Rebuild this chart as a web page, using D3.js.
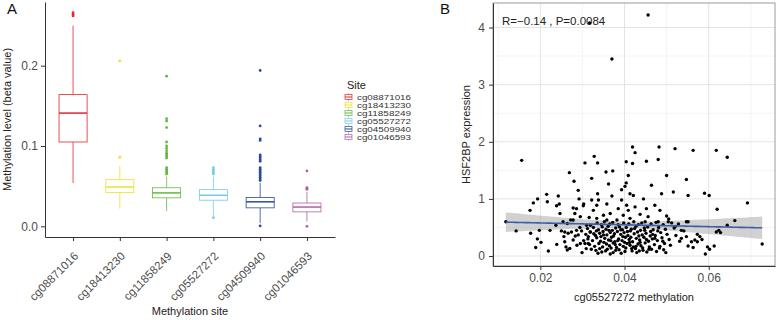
<!DOCTYPE html>
<html>
<head>
<meta charset="utf-8">
<script src="https://cdn.jsdelivr.net/npm/d3@7"></script>
<style>
  body { margin: 0; background: #fff; }
  svg { font-family: "Liberation Sans", Arial, sans-serif; }
</style>
</head>
<body>
<svg id="chart" width="776" height="320"></svg>
<script>
// ---- Panel A data: box summaries ----
const sites = ["cg08871016", "cg18413230", "cg11858249", "cg05527272", "cg04509940", "cg01046593"];
const siteColors = ["#E3262B", "#EEDF2A", "#62B83C", "#74CDE4", "#2A4A9C", "#B060A4"];
const boxQ1 = [0.105, 0.042, 0.0355, 0.0325, 0.023, 0.018];
const boxMedian = [0.141, 0.049, 0.0416, 0.0387, 0.0305, 0.024];
const boxQ3 = [0.164, 0.058, 0.048, 0.0457, 0.036, 0.029];
const whiskerLow = [0.054, 0.022, 0.019, 0.013, 0.004, 0.006];
const whiskerHigh = [0.25, 0.075, 0.062, 0.062, 0.054, 0.043];
const outliers = [
  [0.262, 0.264, 0.266],
  [0.206, 0.086],
  [0.187, 0.134, 0.131, 0.123, 0.105, 0.100, 0.097, 0.094, 0.091, 0.089, 0.087, 0.085, 0.073, 0.071, 0.069, 0.067, 0.065],
  [0.073, 0.071, 0.069, 0.067, 0.065, 0.0107],
  [0.194, 0.125, 0.109, 0.107, 0.089, 0.087, 0.085, 0.083, 0.081, 0.073, 0.071, 0.069, 0.067, 0.065, 0.063, 0.061, 0.059, 0.057, 0.0005],
  [0.069, 0.048, 0.047, 0.046, 0.0]
];
const yTicksA = [0, 0.1, 0.2];

// ---- Panel B data: [cg05527272 methylation, HSF2BP expression] ----
const scatter = [
  [0.0118,0.599],[0.01425,0.44],[0.01557,1.675],[0.01756,0.80],[0.01834,0.93],[0.01936,1.0],[0.0215,1.08],[0.02166,0.95],
  [0.02426,1.05],[0.02386,0.88],[0.0245,0.91],[0.02466,0.745],[0.0177,0.40],[0.01976,0.45],[0.0193,0.30],[0.02016,0.24],
  [0.0189,0.15],[0.0219,0.087],[0.0223,0.45],[0.0237,0.54],[0.0239,0.204],[0.0250,0.44],[0.0254,0.60],[0.0256,0.34],
  [0.0258,0.25],[0.0261,0.16],[0.0264,0.105],[0.0270,0.134],[0.0269,1.46],[0.0280,1.31],[0.0278,0.84],[0.0286,0.83],
  [0.0282,0.745],[0.0272,0.63],[0.0278,0.63],[0.0264,0.57],[0.0258,0.42],[0.0266,0.40],[0.0274,0.42],[0.0278,0.28],
  [0.0286,0.45],[0.0290,1.15],[0.0292,1.0],[0.0302,0.88],[0.0303,0.91],[0.0295,0.69],[0.0294,0.50],[0.0298,0.44],
  [0.0290,0.37],[0.0295,0.22],[0.0306,0.22],[0.0314,0.22],[0.0318,0.42],[0.0306,1.63],[0.0316,0.675],[0.0310,0.54],
  [0.0314,0.34],[0.0319,0.54],
  [0.0328,1.745],[0.0336,1.63],[0.0322,1.36],[0.0356,1.47],[0.0372,1.49],[0.0336,1.09],[0.0362,1.26],[0.0322,0.98],
  [0.0338,0.98],[0.0334,0.89],[0.0326,0.80],[0.0358,0.91],[0.0370,1.05],[0.0393,1.16],[0.0404,1.28],[0.0409,1.41],
  [0.0404,1.65],[0.0419,1.62],[0.0419,1.91],[0.0425,1.81],[0.0452,1.66],[0.0480,1.69],[0.0482,1.91],[0.0520,1.88],
  [0.0500,1.41],[0.0547,1.34],[0.0464,1.24],[0.0401,1.22],[0.0413,1.09],[0.0488,1.09],[0.0516,1.12],[0.0551,1.06],
  [0.0421,1.06],[0.0445,1.0],[0.0393,0.98],[0.0405,0.89],[0.0385,0.83],[0.0409,0.80],[0.0397,0.715],[0.0425,0.86],
  [0.0452,0.83],[0.0472,0.89],[0.0484,0.80],[0.0456,0.69],[0.0500,0.70],[0.0437,0.73],[0.0366,0.745],[0.0350,0.715],
  [0.0334,0.66],[0.0358,0.63],[0.0382,0.63],[0.0413,0.66],[0.0449,0.60],[0.0480,0.60],[0.0504,0.60],[0.0535,0.45],
  [0.0547,0.34],[0.0547,0.60],
  [0.0563,1.85],[0.0618,1.85],[0.0644,1.73],[0.0590,1.10],[0.0601,1.06],[0.0692,0.93],[0.0620,0.82],[0.0551,0.60],
  [0.0662,0.62],[0.0644,0.54],[0.0618,0.42],[0.0624,0.45],[0.0628,0.41],[0.0727,0.21],[0.0573,0.38],[0.0579,0.34],
  [0.0567,0.28],[0.0559,0.25],[0.0573,0.25],[0.0584,0.29],[0.0551,0.175],[0.0563,0.15],[0.0597,0.16],[0.0602,0.12],
  [0.0613,0.175],[0.0592,0.035],[0.0366,0.035],
  [0.0317,4.08],[0.0370,3.45],[0.0456,4.22],
  [0.0335,0.58],[0.0345,0.55],[0.0352,0.60],[0.0365,0.56],[0.0372,0.59],[0.0385,0.55],[0.0398,0.58],[0.0410,0.56],
  [0.0422,0.60],[0.0433,0.55],[0.0441,0.58],[0.0463,0.56],[0.0475,0.59],[0.0492,0.55],[0.0512,0.58],[0.0528,0.56],
  [0.0312,0.48],[0.0326,0.50],[0.0338,0.46],[0.0347,0.51],[0.0356,0.47],[0.0361,0.52],[0.0371,0.45],[0.0379,0.49],
  [0.0388,0.51],[0.0395,0.46],[0.0404,0.50],[0.0416,0.47],[0.0427,0.52],[0.0438,0.45],[0.0447,0.49],[0.0455,0.51],
  [0.0468,0.46],[0.0481,0.50],[0.0497,0.47],[0.0518,0.49],
  [0.0308,0.38],[0.0319,0.42],[0.0331,0.36],[0.0341,0.40],[0.0349,0.43],[0.0358,0.37],[0.0366,0.41],[0.0374,0.35],
  [0.0383,0.43],[0.0391,0.38],[0.0399,0.41],[0.0408,0.36],[0.0414,0.44],[0.0423,0.39],[0.0431,0.42],[0.0442,0.37],
  [0.0451,0.40],[0.0462,0.43],[0.0473,0.36],[0.0486,0.41],[0.0501,0.38],[0.0522,0.36],
  [0.0313,0.30],[0.0324,0.27],[0.0334,0.32],[0.0343,0.26],[0.0353,0.31],[0.0362,0.28],[0.0369,0.33],[0.0377,0.25],
  [0.0386,0.30],[0.0394,0.27],[0.0402,0.33],[0.0411,0.29],[0.0419,0.25],[0.0428,0.31],[0.0436,0.28],[0.0446,0.33],
  [0.0457,0.26],[0.0466,0.30],[0.0478,0.27],[0.0489,0.32],[0.0506,0.29],[0.0531,0.26],
  [0.0317,0.20],[0.0329,0.17],[0.0339,0.22],[0.0348,0.16],[0.0357,0.21],[0.0364,0.18],[0.0373,0.23],[0.0381,0.15],
  [0.0389,0.20],[0.0397,0.17],[0.0406,0.22],[0.0413,0.19],[0.0421,0.16],[0.0432,0.21],[0.0439,0.18],[0.0449,0.23],
  [0.0459,0.16],[0.0471,0.20],[0.0484,0.17],[0.0495,0.22],[0.0509,0.19],
  [0.0332,0.10],[0.0346,0.07],[0.0359,0.12],[0.0373,0.06],[0.0387,0.11],[0.0401,0.08],[0.0417,0.13],[0.0429,0.06],
  [0.0444,0.10],[0.0458,0.12],[0.0476,0.08],[0.0493,0.11],
  [0.0505,0.65],[0.0521,0.52],[0.0535,0.31],[0.0541,0.44],
  [0.0321,0.12],[0.0337,0.05],[0.0344,0.34],[0.0351,0.24],[0.0355,0.09],[0.0363,0.45],[0.0368,0.14],[0.0376,0.39],
  [0.0379,0.10],[0.0384,0.27],[0.0392,0.05],[0.0396,0.34],[0.0403,0.14],[0.0407,0.43],[0.0412,0.24],[0.0418,0.09],
  [0.0424,0.48],[0.0426,0.13],[0.0434,0.35],[0.0437,0.24],[0.0443,0.14],[0.0448,0.45],[0.0453,0.07],[0.0461,0.35],
  [0.0464,0.12],[0.0472,0.31],[0.0479,0.44],[0.0483,0.14],[0.0491,0.26],[0.0498,0.06],[0.0327,0.39],[0.0333,0.44],
  [0.0341,0.13],[0.0350,0.37],[0.0367,0.27],[0.0378,0.20],[0.0391,0.46],[0.0400,0.24],[0.0415,0.33],[0.0427,0.17],
  [0.0435,0.09],[0.0452,0.29],[0.0467,0.38],[0.0303,0.27],[0.0309,0.13],[0.0287,0.19],[0.0283,0.35],[0.0299,0.06]
];
// fitted line: [methylation, expression] at both ends
const fitEnds = [[0.0118, 0.593], [0.0727, 0.494]];
const xTicksB = [0.02, 0.04, 0.06];
const xMinorB = [0.01, 0.03, 0.05, 0.07];
const yTicksB = [0, 1, 2, 3, 4];
const yMinorB = [0.5, 1.5, 2.5, 3.5];
const corrLabel = "R=\u22120.14 , P=0.0084";

const svg = d3.select("#chart");
const axisColor = "#333";
const labelColor = "#4d4d4d";

// ================= Panel A =================
const a = { left: 45, right: 335, top: 2, bottom: 237 };
const yMaxA = d3.max(outliers.flat());
const padA = yMaxA * 0.05;

const xA = d3.scalePoint().domain(sites).range([a.left, a.right]).padding(0.6);
const yA = d3.scaleLinear().domain([0 - padA, yMaxA + padA]).range([a.bottom, a.top]);
const boxW = xA.step() * 0.6;

const gA = svg.append("g");

const yAxisA = gA.append("g")
    .attr("transform", `translate(${a.left},0)`)
    .call(d3.axisLeft(yA).tickValues(yTicksA).tickFormat(d3.format(".1f")).tickSize(4).tickSizeOuter(0).tickPadding(3));
const xAxisA = gA.append("g")
    .attr("transform", `translate(0,${a.bottom})`)
    .call(d3.axisBottom(xA).tickSize(4).tickSizeOuter(0));

[yAxisA, xAxisA].forEach(g => {
  g.select(".domain").attr("stroke", axisColor);
  g.selectAll(".tick line").attr("stroke", axisColor);
  g.selectAll(".tick text").attr("fill", labelColor).attr("font-family", null);
});
yAxisA.selectAll(".tick text").attr("font-size", 12);
xAxisA.selectAll(".tick text")
    .attr("font-size", 11.5)
    .attr("text-anchor", "end")
    .attr("dy", "0.35em")
    .attr("y", 0)
    .attr("transform", "translate(2.5,17) rotate(-45)");

const boxes = gA.append("g").selectAll("g.box")
  .data(sites)
  .join("g")
    .attr("class", "box");

boxes.each(function(d, i) {
  const g = d3.select(this);
  const cx = xA(d);
  const c = siteColors[i];
  g.append("line").attr("x1", cx).attr("x2", cx)
      .attr("y1", yA(whiskerHigh[i])).attr("y2", yA(boxQ3[i]))
      .attr("stroke", c).attr("stroke-width", 0.8);
  g.append("line").attr("x1", cx).attr("x2", cx)
      .attr("y1", yA(boxQ1[i])).attr("y2", yA(whiskerLow[i]))
      .attr("stroke", c).attr("stroke-width", 0.8);
  g.append("rect")
      .attr("x", cx - boxW / 2).attr("width", boxW)
      .attr("y", yA(boxQ3[i])).attr("height", yA(boxQ1[i]) - yA(boxQ3[i]))
      .attr("fill", "#fff").attr("stroke", c).attr("stroke-width", 0.8);
  g.append("line")
      .attr("x1", cx - boxW / 2).attr("x2", cx + boxW / 2)
      .attr("y1", yA(boxMedian[i])).attr("y2", yA(boxMedian[i]))
      .attr("stroke", c).attr("stroke-width", 1.5);
  g.selectAll("circle")
    .data(outliers[i])
    .join("circle")
      .attr("cx", cx).attr("cy", v => yA(v)).attr("r", 1.4)
      .attr("fill", c);
});

gA.append("text")
    .attr("transform", `translate(10.5,${(a.top + a.bottom) / 2}) rotate(-90)`)
    .attr("text-anchor", "middle").attr("font-size", 11).attr("fill", "#222")
    .text("Methylation level (beta value)");
gA.append("text")
    .attr("x", (a.left + a.right) / 2).attr("y", 315)
    .attr("text-anchor", "middle").attr("font-size", 11).attr("fill", "#222")
    .text("Methylation site");
gA.append("text").attr("x", 7).attr("y", 14).attr("font-size", 15).attr("fill", "#111").text("A");

// legend
const legend = svg.append("g").attr("transform", "translate(345,0)");
legend.append("text").attr("x", 2).attr("y", 89).attr("font-size", 11).attr("fill", "#222").text("Site");
const li = legend.selectAll("g.item").data(sites).join("g")
    .attr("class", "item")
    .attr("transform", (d, i) => `translate(0,${97 + i * 8})`);
li.append("line").attr("x1", 3.5).attr("x2", 3.5).attr("y1", -3.5).attr("y2", 3.5)
    .attr("stroke", (d, i) => siteColors[i]).attr("stroke-width", 0.7);
li.append("rect").attr("x", 0).attr("y", -2.5).attr("width", 7).attr("height", 5)
    .attr("fill", "#fff").attr("stroke", (d, i) => siteColors[i]).attr("stroke-width", 0.7);
li.append("line").attr("x1", 0).attr("x2", 7).attr("y1", 0).attr("y2", 0)
    .attr("stroke", (d, i) => siteColors[i]).attr("stroke-width", 1);
li.append("text").attr("x", 12).attr("y", 3)
    .attr("font-size", 8).attr("fill", "#333")
    .attr("textLength", 54).attr("lengthAdjust", "spacingAndGlyphs")
    .text(d => d);

// ================= Panel B =================
const b = { left: 493, right: 775, top: 3, bottom: 266 };
const xExt = d3.extent(scatter, d => d[0]);
const yExt = d3.extent(scatter, d => d[1]);
const xPad = (xExt[1] - xExt[0]) * 0.05;
const yPad = (yExt[1] - yExt[0]) * 0.05;

const xB = d3.scaleLinear().domain([xExt[0] - xPad, xExt[1] + xPad]).range([b.left, b.right]);
const yB = d3.scaleLinear().domain([yExt[0] - yPad, yExt[1] + yPad]).range([b.bottom, b.top]);

const gB = svg.append("g");

// grid
gB.append("g").selectAll("line").data(xMinorB).join("line")
    .attr("x1", d => xB(d)).attr("x2", d => xB(d)).attr("y1", b.top).attr("y2", b.bottom)
    .attr("stroke", "#ececec").attr("stroke-width", 0.6);
gB.append("g").selectAll("line").data(yMinorB).join("line")
    .attr("y1", d => yB(d)).attr("y2", d => yB(d)).attr("x1", b.left).attr("x2", b.right)
    .attr("stroke", "#ececec").attr("stroke-width", 0.6);
gB.append("g").selectAll("line").data(xTicksB).join("line")
    .attr("x1", d => xB(d)).attr("x2", d => xB(d)).attr("y1", b.top).attr("y2", b.bottom)
    .attr("stroke", "#e3e3e3").attr("stroke-width", 1);
gB.append("g").selectAll("line").data(yTicksB).join("line")
    .attr("y1", d => yB(d)).attr("y2", d => yB(d)).attr("x1", b.left).attr("x2", b.right)
    .attr("stroke", "#e3e3e3").attr("stroke-width", 1);

// linear fit (line from the picture) with 95% band from the data spread
const n = scatter.length;
const slope = (fitEnds[1][1] - fitEnds[0][1]) / (fitEnds[1][0] - fitEnds[0][0]);
const intercept = fitEnds[0][1] - slope * fitEnds[0][0];
const xBar = d3.mean(scatter, d => d[0]);
const sxx = d3.sum(scatter, d => (d[0] - xBar) ** 2);
const s = Math.sqrt(d3.sum(scatter, d => (d[1] - intercept - slope * d[0]) ** 2) / (n - 2));
const tq = 1.968;
const fitXs = d3.range(0, 81).map(k => fitEnds[0][0] + (fitEnds[1][0] - fitEnds[0][0]) * k / 80);
const fit = fitXs.map(x => {
  const yh = intercept + slope * x;
  const se = s * Math.sqrt(1 / n + (x - xBar) ** 2 / sxx);
  return { x, y: yh, lo: yh - tq * se, hi: yh + tq * se };
});

gB.append("path")
    .datum(fit)
    .attr("fill", "#999").attr("fill-opacity", 0.45)
    .attr("d", d3.area().x(d => xB(d.x)).y0(d => yB(d.lo)).y1(d => yB(d.hi)));

gB.append("g").selectAll("circle").data(scatter).join("circle")
    .attr("cx", d => xB(d[0])).attr("cy", d => yB(d[1])).attr("r", 1.7)
    .attr("fill", "#000");

gB.append("path")
    .datum(fit)
    .attr("fill", "none").attr("stroke", "#3B5EA6").attr("stroke-width", 1.6)
    .attr("d", d3.line().x(d => xB(d.x)).y(d => yB(d.y)));

// border and axes
gB.append("rect")
    .attr("x", b.left).attr("y", b.top).attr("width", b.right - b.left).attr("height", b.bottom - b.top)
    .attr("fill", "none").attr("stroke", "#9a9a9a").attr("stroke-width", 1);

const xAxisB = gB.append("g")
    .attr("transform", `translate(0,${b.bottom})`)
    .call(d3.axisBottom(xB).tickValues(xTicksB).tickFormat(d3.format(".2f")).tickSize(4).tickSizeOuter(0).tickPadding(3));
const yAxisB = gB.append("g")
    .attr("transform", `translate(${b.left},0)`)
    .call(d3.axisLeft(yB).tickValues(yTicksB).tickFormat(d3.format("d")).tickSize(4).tickSizeOuter(0).tickPadding(4));
[xAxisB, yAxisB].forEach(g => {
  g.select(".domain").attr("stroke", axisColor);
  g.selectAll(".tick line").attr("stroke", axisColor);
  g.selectAll(".tick text").attr("fill", labelColor).attr("font-size", 12).attr("font-family", null);
});

gB.append("text")
    .attr("x", 502).attr("y", 25).attr("font-size", 11.5).attr("fill", "#222")
    .text(corrLabel);

gB.append("text")
    .attr("transform", `translate(470,${(b.top + b.bottom) / 2}) rotate(-90)`)
    .attr("text-anchor", "middle").attr("font-size", 11).attr("fill", "#222")
    .text("HSF2BP expression");
gB.append("text")
    .attr("x", (b.left + b.right) / 2).attr("y", 301)
    .attr("text-anchor", "middle").attr("font-size", 11).attr("fill", "#222")
    .text("cg05527272 methylation");
gB.append("text").attr("x", 440).attr("y", 14).attr("font-size", 15).attr("fill", "#111").text("B");
</script>
</body>
</html>
